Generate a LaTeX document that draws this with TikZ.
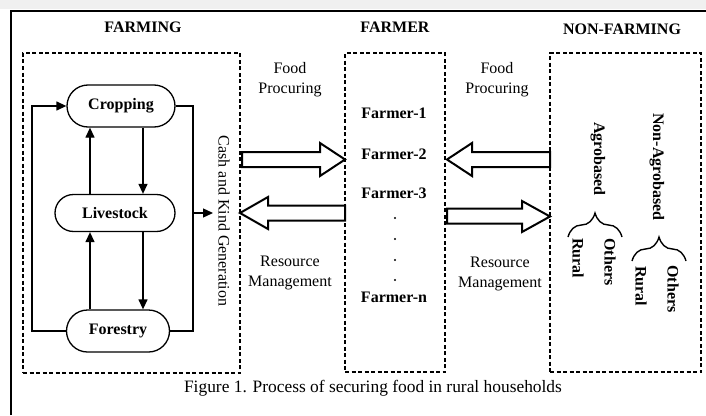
\documentclass[tikz,border=0pt]{standalone}
\usepackage{fontspec}
\setmainfont{Liberation Serif}
\usetikzlibrary{arrows.meta,decorations.pathreplacing,shapes.misc}
\begin{document}
\begin{tikzpicture}[x=1pt,y=-1pt,
 every node/.style={font=\fontsize{16}{20}\selectfont, inner sep=0pt},
 head/.style={font=\fontsize{16}{20}\selectfont\bfseries},
 dbox/.style={draw, line width=1.2pt, dash pattern=on 4pt off 2.5pt},
 act/.style={draw, rounded rectangle, line width=1.3pt, font=\fontsize{16}{20}\selectfont\bfseries},
 arr/.style={line width=1.3pt, -{Triangle[length=10pt,width=9pt]}},
 ln/.style={line width=1.3pt},
 blk/.style={draw, line width=2pt, fill=white, line join=miter},
 lbl/.style={align=center},
 fm/.style={font=\fontsize{16}{20}\selectfont\bfseries},
 rot/.style={rotate=-90, font=\fontsize{16}{20}\selectfont\bfseries},
 brc/.style={decorate, line width=1.4pt, decoration={brace, amplitude=24pt}}
]
\useasboundingbox (0,0) rectangle (706,415);
\fill[white] (0,0) rectangle (706,415);
\fill[black!6] (0,0) rectangle (706,9);
% outer frame
\draw[line width=2pt] (11,415) -- (11,11) -- (706,11);

% headings
\node[head] (hfarming) at (143,27) {FARMING};
\node[head] (hfarmer) at (395,27) {FARMER};
\node[head] (hnonfarm) at (622,29) {NON-FARMING};

% dashed boxes
\node[dbox, minimum width=217pt, minimum height=320pt] (farmbox) at (131.5,213) {};
\node[dbox, minimum width=100pt, minimum height=319pt] (farmerbox) at (395,212.5) {};
\node[dbox, minimum width=151pt, minimum height=319pt] (nonbox) at (625.5,212.5) {};

% activity nodes
\node[act, minimum width=108pt, minimum height=42pt] (crop) at (121,106) {Cropping};
\node[act, minimum width=120pt, minimum height=37pt] (live) at (115,213) {Livestock};
\node[act, minimum width=103pt, minimum height=42pt] (forest) at (118,331) {Forestry};

% cycle arrows
\draw[arr] (forest.west) -- ++(-34,0) |- (crop.west);
\draw[arr] (live.north -| 90,0) -- (crop.south -| 90,0);
\draw[arr] (crop.south -| 143,0) -- (live.north -| 143,0);
\draw[arr] (forest.north -| 90,0) -- (live.south -| 90,0);
\draw[arr] (live.south -| 143,0) -- (forest.north -| 143,0);
\draw[ln] (crop.east) -- (193,106) |- (forest.east);
\coordinate (cashin) at (213,213);
\draw[arr] (193,213) -- (cashin);

\node[rotate=-90] (cash) at (224,221) {Cash and Kind Generation};

% block arrows
\draw[blk] (242,152) -- (320,152) -- (320,143) -- (345,159.5) -- (320,176) -- (320,167) -- (242,167) -- cycle;
\draw[blk] (345,205.5) -- (268,205.5) -- (268,197) -- (240,213) -- (268,229) -- (268,220.5) -- (345,220.5) -- cycle;
\draw[blk] (550,152) -- (472,152) -- (472,143) -- (447,159.5) -- (472,176) -- (472,167) -- (550,167) -- cycle;
\draw[blk] (447,208.5) -- (522,208.5) -- (522,201) -- (550,216.5) -- (522,232) -- (522,223.5) -- (447,223.5) -- cycle;

% arrow labels
\node[lbl] (fp1) at (290,80) {Food\\Procuring};
\node[lbl] (fp2) at (497,80) {Food\\Procuring};
\node[lbl] (rm1) at (290,273) {Resource\\Management};
\node[lbl] (rm2) at (500,274) {Resource\\Management};

% farmers
\node[fm] (f1) at (394,113) {Farmer-1};
\node[fm] (f2) at (394,154) {Farmer-2};
\node[fm] (f3) at (394,193) {Farmer-3};
\fill (395,218) circle (1.1pt);
\fill (395,239) circle (1.1pt);
\fill (395,260) circle (1.1pt);
\fill (395,280) circle (1.1pt);
\node[fm] (fn) at (394,297) {Farmer-n};

% non-farming
\node[rot] (agro) at (598,159) {Agrobased};
\node[rot] (nonagro) at (657,167) {Non-Agrobased};
\draw[brc] (568,237) -- (622,237);
\draw[brc] (632,261) -- (686,261);
\node[rot] (r1) at (578,258) {Rural};
\node[rot] (o1) at (610,262) {Others};
\node[rot] (r2) at (641,286) {Rural};
\node[rot] (o2) at (673,289) {Others};

% caption
\node[font=\fontsize{17.4}{20}\selectfont] (cap) at (373,388) {Figure 1. Process of securing food in rural households};
\end{tikzpicture}
\end{document}
